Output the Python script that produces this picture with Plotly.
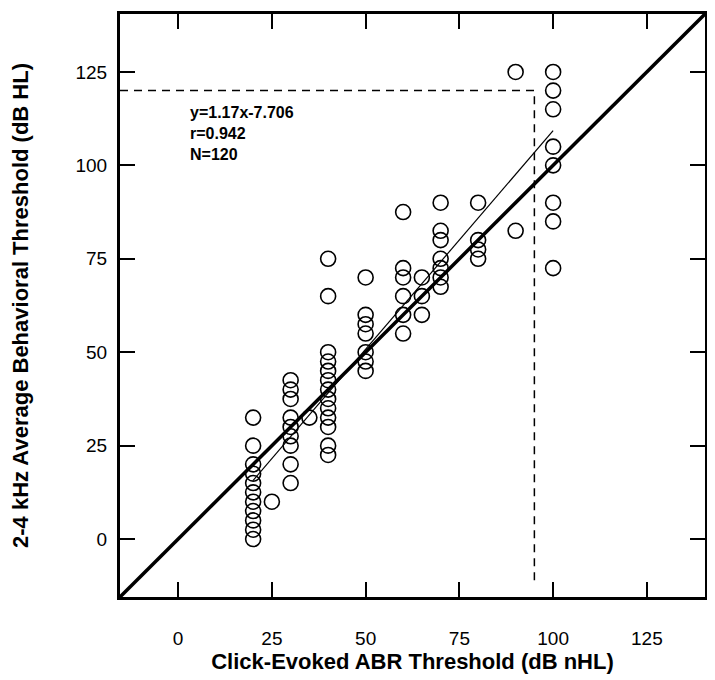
import plotly.graph_objects as go

# -- Data --
abr_x = ([20] * 11 + [25] + [30] * 9 + [35] + [40] * 13 + [50] * 7 +
         [60] * 6 + [65] * 3 + [70] * 7 + [80] * 4 + [90] * 2 + [100] * 8)
behav_y = ([0, 2.5, 5, 7.5, 10, 12.5, 15, 17.5, 20, 25, 32.5] +
           [10] +
           [15, 20, 25, 27.5, 30, 32.5, 37.5, 40, 42.5] +
           [32.5] +
           [22.5, 25, 30, 32.5, 35, 37.5, 40, 42.5, 45, 47.5, 50, 65, 75] +
           [45, 47.5, 50, 55, 57.5, 60, 70] +
           [55, 60, 65, 70, 72.5, 87.5] +
           [60, 65, 70] +
           [67.5, 70, 72.5, 75, 80, 82.5, 90] +
           [75, 77.5, 80, 90] +
           [82.5, 125] +
           [72.5, 85, 90, 100, 105, 115, 120, 125])

slope, intercept = 1.17, -7.706
fit_x = [20, 100]
cut_x, cut_y = 95, 120
ax_range = [-15.5, 140.5]
ticks = [0, 25, 50, 75, 100, 125]

FONT = "Liberation Sans"

fig = go.Figure()

# identity line
fig.add_trace(go.Scatter(x=ax_range, y=ax_range, mode="lines",
                         line=dict(color="black", width=3.5), hoverinfo="skip"))
# regression line
fig.add_trace(go.Scatter(x=fit_x, y=[slope * v + intercept for v in fit_x], mode="lines",
                         line=dict(color="black", width=1.2), hoverinfo="skip"))
# cut-off box (dashed)
fig.add_trace(go.Scatter(x=[ax_range[0], cut_x, cut_x], y=[cut_y, cut_y, -12.5], mode="lines",
                         line=dict(color="black", width=1.5, dash="8px,6px"), hoverinfo="skip"))
# data points
fig.add_trace(go.Scatter(x=abr_x, y=behav_y, mode="markers",
                         marker=dict(symbol="circle-open", size=15, color="black",
                                     line=dict(width=1.6, color="black"))))

fig.add_annotation(x=2.5, y=cut_y - 3, xref="x", yref="y", xanchor="left", yanchor="top",
                   align="left", showarrow=False,
                   text="<b>y=1.17x-7.706<br>r=0.942<br>N=120</b>",
                   font=dict(family=FONT, size=16, color="black"))

axis_common = dict(range=ax_range, tickvals=ticks, ticks="inside", ticklen=15, tickwidth=2,
                   tickcolor="black", showline=True, linecolor="black", linewidth=3,
                   mirror="allticks", showgrid=False, zeroline=False,
                   tickfont=dict(family=FONT, size=19, color="black"))

fig.update_xaxes(**axis_common, ticklabelstandoff=22,
                 title=dict(text="<b>Click-Evoked ABR Threshold (dB nHL)</b>", standoff=6,
                            font=dict(family=FONT, size=22, color="black")))
fig.update_yaxes(**axis_common, ticklabelstandoff=6,
                 title=dict(text="<b>2-4 kHz Average Behavioral Threshold (dB HL)</b>", standoff=42,
                            font=dict(family=FONT, size=22, color="black")))

# page body adds an 8px offset, so the figure is sized to fit the window
fig.update_layout(width=707, height=672, showlegend=False,
                  plot_bgcolor="white", paper_bgcolor="white",
                  margin=dict(l=112, r=10, t=6, b=83, autoexpand=False))

fig.write_html("out.html")
